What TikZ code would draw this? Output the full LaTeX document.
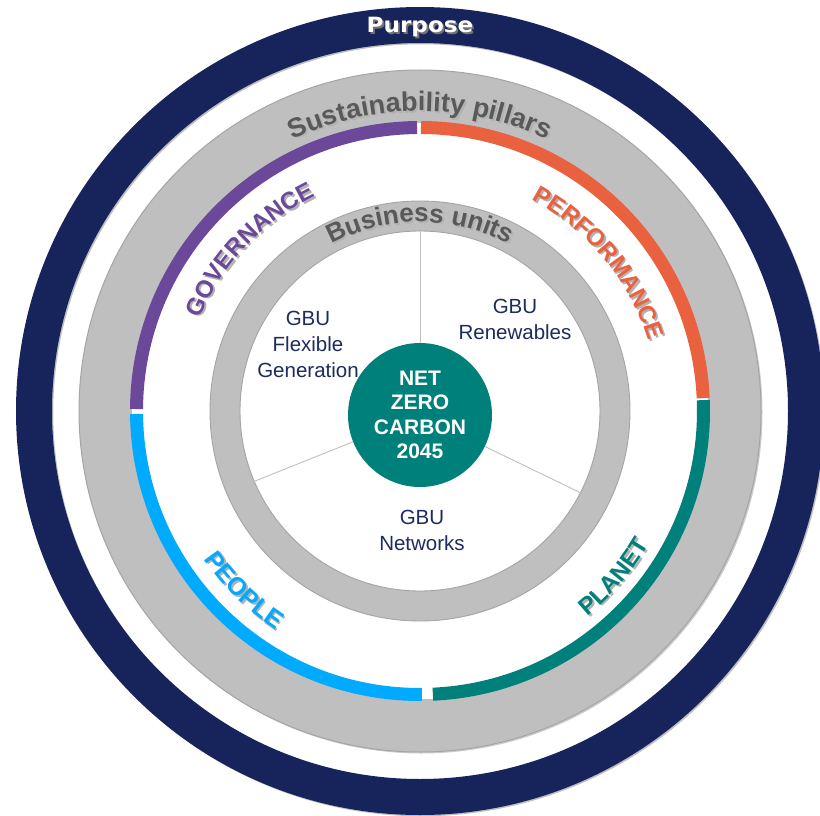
\documentclass[tikz,border=0pt]{standalone}
\usepackage{fontspec}
\setmainfont{Liberation Sans}
\newfontfamily\purposefont{DejaVu Sans}
\usetikzlibrary{calc,decorations.text}
\definecolor{navyc}{HTML}{17245C}
\definecolor{ringgray}{HTML}{BFBFBF}
\definecolor{edgegray}{HTML}{A5A5A5}
\definecolor{purp}{HTML}{6B4899}
\definecolor{orng}{HTML}{EA6140}
\definecolor{tealc}{HTML}{00807A}
\definecolor{skyb}{HTML}{00AAFF}
\definecolor{txtgray}{HTML}{595959}
\definecolor{gbutext}{HTML}{1E2B5E}
\newcommand\arcTxt[6]{%
  \path[decorate,decoration={text along path,text align=center,
     text={|\fontsize{#5}{#5}\selectfont\bfseries\color{black!30}|#6}}]
     ($(C)+(#1:#3)+(1.8pt,-1.8pt)$) arc[start angle=#1,end angle=#2,radius=#3];
  \path[decorate,decoration={text along path,text align=center,
     text={|\fontsize{#5}{#5}\selectfont\bfseries\color{#4}|#6}}]
     ($(C)+(#1:#3)$) arc[start angle=#1,end angle=#2,radius=#3];
}
\tikzset{
  pillar/.style={line width=13pt,line cap=butt},
  spoke/.style={draw=ringgray,line width=0.9pt},
  gbu/.style={text=gbutext,align=center,font=\fontsize{20.5}{26}\selectfont},
}
\begin{document}
\begin{tikzpicture}
\useasboundingbox (0,0) rectangle (820pt,-816pt);
\clip (0,0) rectangle (820pt,-816pt);
\fill[white] (0,0) rectangle (820pt,-816pt);
\coordinate (C) at (420pt,-411pt);
% navy purpose ring
\draw[black!25,line width=35.5pt] ($(C)+(1.5pt,-1.5pt)$) circle[radius=386pt];
\draw[navyc,line width=36pt] (C) circle[radius=386pt];
% outer gray disc
\fill[black!20] ($(C)+(1.5pt,-1.5pt)$) circle[radius=341pt];
\draw[fill=ringgray,draw=edgegray,line width=1pt] (C) circle[radius=341pt];
\fill[white] (C) circle[radius=288pt];
% pillar arcs
\draw[pillar,orng] ($(C)+(2.6:283.5pt)$) arc[start angle=2.6,end angle=89.8,radius=283.5pt];
\draw[pillar,purp] ($(C)+(90.6:283.5pt)$) arc[start angle=90.6,end angle=179.6,radius=283.5pt];
\draw[pillar,skyb] ($(C)+(180.6:283.5pt)$) arc[start angle=180.6,end angle=270.4,radius=283.5pt];
\draw[pillar,tealc] ($(C)+(272.6:283.5pt)$) arc[start angle=272.6,end angle=362.2,radius=283.5pt];
% inner gray ring
\draw[ringgray,line width=30pt] (C) circle[radius=195pt];
\draw[edgegray,line width=0.9pt] (C) circle[radius=210pt];
\draw[edgegray,line width=0.9pt] (C) circle[radius=180pt];
% core
\node[circle,fill=tealc,minimum size=144pt,inner sep=0pt,text=white,align=center,
      font=\fontsize{21}{24.3}\selectfont\bfseries] (core) at (420pt,-415pt)
      {NET\\ZERO\\CARBON\\2045};
\coordinate (s1) at ($(C)+(90:180.5pt)$);
\coordinate (s2) at ($(C)+(203:180.5pt)$);
\coordinate (s3) at ($(C)+(333:180.5pt)$);
\draw[spoke] (core) -- (s1);
\draw[spoke] (core) -- (s2);
\draw[spoke] (core) -- (s3);
% business units text
\node[gbu] (flex) at (308pt,-344pt) {GBU\\Flexible\\Generation};
\node[gbu] (ren) at (515pt,-319pt) {GBU\\Renewables};
\node[gbu] (net) at (422pt,-530pt) {GBU\\Networks};
% purpose
\node[text=black!55,font=\purposefont\fontsize{21}{21}\selectfont\bfseries] (purposeshadow) at (421.8pt,-28.8pt) {\scalebox{1.1}[1]{Purpose}};
\node[text=white,font=\purposefont\fontsize{21}{21}\selectfont\bfseries] (purpose) at (420pt,-27pt) {\scalebox{1.1}[1]{Purpose}};
% curved texts
\arcTxt{145}{35}{300pt}{txtgray}{27}{Sustainability pillars}
\arcTxt{145}{35}{189pt}{txtgray}{26}{Business units}
\arcTxt{186.5}{86.5}{239pt}{purp}{24}{GOVERNANCE}
\arcTxt{89.6}{-10.4}{239pt}{orng}{24}{PERFORMANCE}
\arcTxt{185.5}{265.5}{262pt}{skyb}{25}{PEOPLE}
\arcTxt{279.5}{359.5}{265pt}{tealc}{24}{PLANET}
\end{tikzpicture}
\end{document}
